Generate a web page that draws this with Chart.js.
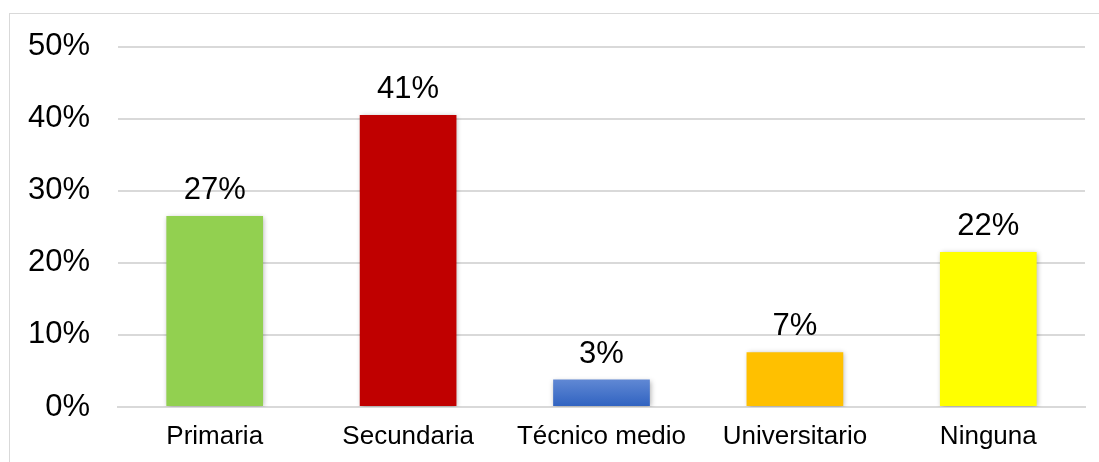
<!DOCTYPE html>
<html lang="es">
<head>
    <meta charset="UTF-8">
    <title>Nivel educativo</title>
    <script src="https://cdn.jsdelivr.net/npm/chart.js"></script>
    <style>
        body { margin: 0; background: #fff; }
        .wrap { position: relative; width: 1099px; height: 462px; overflow: hidden; }
        /* marco gris del gráfico */
        .frame {
            position: absolute; left: 9px; top: 13px;
            width: 1200px; height: 600px;
            border: 1px solid #d9d9d9;
        }
        canvas { position: absolute; left: 0; top: 0; }
    </style>
</head>
<body>
<div class="wrap">
    <div class="frame"></div>
    <canvas id="chart" width="1099" height="462"></canvas>
</div>
<script>
    const categories = ['Primaria', 'Secundaria', 'Técnico medio', 'Universitario', 'Ninguna'];
    const values = [26.5, 40.5, 3.8, 7.6, 21.5];
    const valueLabels = ['27%', '41%', '3%', '7%', '22%'];
    const barColors = ['#92d050', '#c00000', '#4472c4', '#ffc000', '#ffff00'];
    const yTicks = [0, 10, 20, 30, 40, 50];

    const FONT = "'Liberation Sans', Arial, sans-serif";

    // sombra suave de las barras
    const shadowPlugin = {
        id: 'shadow',
        beforeDatasetsDraw(chart) {
            const ctx = chart.ctx;
            ctx.save();
            ctx.shadowColor = 'rgba(0,0,0,0.3)';
            ctx.shadowBlur = 5;
            ctx.shadowOffsetX = 1;
            ctx.shadowOffsetY = 1;
        },
        afterDatasetsDraw(chart) {
            chart.ctx.restore();
        }
    };

    // etiquetas de valor encima de cada barra
    const labelPlugin = {
        id: 'valueLabels',
        afterDraw(chart) {
            const ctx = chart.ctx;
            const meta = chart.getDatasetMeta(0);
            ctx.save();
            ctx.font = '31px ' + FONT;
            ctx.fillStyle = '#000';
            ctx.textAlign = 'center';
            ctx.textBaseline = 'alphabetic';
            meta.data.forEach((bar, i) => {
                ctx.fillText(valueLabels[i], bar.x, bar.y - 17);
            });
            ctx.restore();
        }
    };

    function barFill(context) {
        const i = context.dataIndex;
        const chart = context.chart;
        if (i === 2 && chart.chartArea) {
            const y = chart.scales.y;
            const g = chart.ctx.createLinearGradient(0, y.getPixelForValue(values[i]), 0, y.getPixelForValue(0));
            g.addColorStop(0, '#6088d4');
            g.addColorStop(1, '#2f62c0');
            return g;
        }
        return barColors[i];
    }

    new Chart(document.getElementById('chart'), {
        type: 'bar',
        data: {
            labels: categories,
            datasets: [{
                data: values,
                backgroundColor: barFill,
                borderWidth: 0,
                barPercentage: 0.5,
                categoryPercentage: 1.0
            }]
        },
        options: {
            responsive: false,
            animation: false,
            events: [],
            layout: { padding: { top: 42, right: 14, left: 0, bottom: 0 } },
            plugins: {
                legend: { display: false },
                tooltip: { enabled: false }
            },
            scales: {
                x: {
                    grid: { display: false, drawTicks: false },
                    border: { display: true, color: '#d9d9d9', width: 2 },
                    ticks: {
                        color: '#000',
                        font: { family: FONT, size: 26 },
                        padding: 14,
                        maxRotation: 0
                    },
                    afterFit(scale) { scale.height = 55; }
                },
                y: {
                    min: 0,
                    max: 50,
                    afterBuildTicks(scale) {
                        scale.ticks = yTicks.map(v => ({ value: v }));
                    },
                    grid: { color: '#d9d9d9', lineWidth: 2, drawTicks: false },
                    border: { display: false },
                    ticks: {
                        color: '#000',
                        font: { family: FONT, size: 31 },
                        padding: 28,
                        callback: v => v + '%'
                    },
                    afterFit(scale) { scale.width = 118; }
                }
            }
        },
        plugins: [shadowPlugin, labelPlugin]
    });
</script>
</body>
</html>
